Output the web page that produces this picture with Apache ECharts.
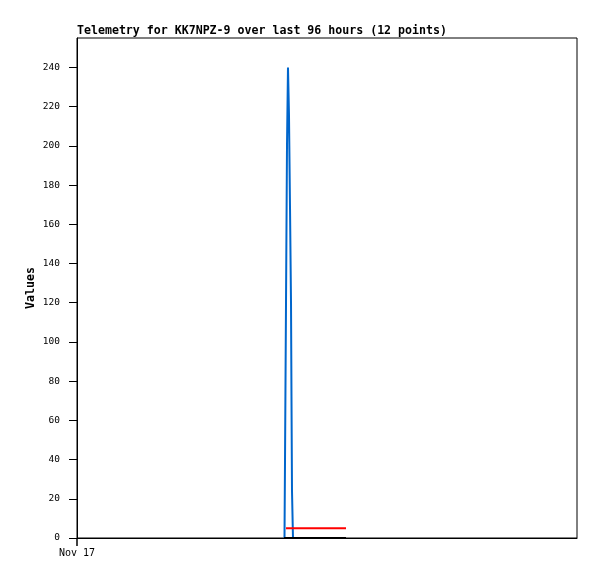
<!DOCTYPE html>
<html>
<head>
<meta charset="utf-8">
<script src="https://cdn.jsdelivr.net/npm/echarts@6/dist/echarts.min.js"></script>
<style>html,body{margin:0;padding:0;background:#fff;}#c{width:597px;height:579px;}</style>
</head>
<body>
<div id="c"></div>
<script>
// hours since the start of the 96-hour window (Nov 17 00:00)
var blueTimes  = [39.84, 39.94, 40.13, 40.32, 40.51, 40.70, 40.90, 41.09, 41.18, 41.28, 41.47, 51.65];
var blueValues = [0, 40, 120, 200, 240, 216, 168, 120, 72, 24, 0, 0];
var redTimes   = [40.13, 40.80, 41.09, 41.40, 44.00, 44.35, 44.70, 51.65];
var redValues  = [5, 5, 4, 5, 5, 4, 5, 5];
var blackTimes = [39.75, 51.65];
var blackValues = [0, 0];
var yTicks = [0, 20, 40, 60, 80, 100, 120, 140, 160, 180, 200, 220, 240];
var xTicks = [0];
var xTickLabels = ['Nov 17'];

function pairs(t, v) { return t.map(function (x, i) { return [x, v[i]]; }); }

var font = 'DejaVu Sans Mono';
var chart = echarts.init(document.getElementById('c'), null, { renderer: 'canvas' });
chart.setOption({
  animation: false,
  backgroundColor: '#ffffff',
  title: {
    text: 'Telemetry for KK7NPZ-9 over last 96 hours (12 points)',
    left: 77, top: 25, padding: 0,
    textStyle: { fontFamily: font, fontSize: 11.6, fontWeight: 'bold', color: '#000' }
  },
  grid: { left: 77, right: 20, top: 38, bottom: 41, show: true, borderColor: '#000', borderWidth: 1, backgroundColor: 'transparent' },
  xAxis: {
    type: 'value', min: 0, max: 96, interval: 96,
    axisLine: { show: true, lineStyle: { color: '#000', width: 1 } },
    axisTick: { show: true, length: 8, customValues: xTicks, lineStyle: { color: '#000', width: 1.5 } },
    axisLabel: {
      customValues: xTicks, margin: 10, align: 'center',
      fontFamily: font, fontSize: 10, color: '#000',
      formatter: function (v) { var i = xTicks.indexOf(v); return i >= 0 ? xTickLabels[i] : ''; }
    },
    splitLine: { show: false }
  },
  yAxis: {
    type: 'value', min: 0, max: 255,
    name: 'Values', nameLocation: 'middle', nameRotate: 90, nameGap: 40, nameMoveOverlap: false,
    nameTextStyle: { fontFamily: font, fontSize: 11.6, fontWeight: 'bold', color: '#000' },
    axisLine: { show: true, lineStyle: { color: '#000', width: 1 } },
    axisTick: { show: true, length: 8, customValues: yTicks, lineStyle: { color: '#000' } },
    axisLabel: { customValues: yTicks, margin: 17, fontFamily: font, fontSize: 9.5, color: '#000' },
    splitLine: { show: false }
  },
  series: [
    { type: 'line', step: 'end', data: pairs(blueTimes, blueValues), showSymbol: false, lineStyle: { color: '#0066cc', width: 2, join: 'miter' }, itemStyle: { color: '#0066cc' } },
    { type: 'line', data: pairs(redTimes, redValues), showSymbol: false, lineStyle: { color: '#ff0000', width: 2 }, itemStyle: { color: '#ff0000' } },
    { type: 'line', data: pairs(blackTimes, blackValues), showSymbol: false, lineStyle: { color: '#000000', width: 2 }, itemStyle: { color: '#000000' } }
  ]
});
</script>
</body>
</html>
